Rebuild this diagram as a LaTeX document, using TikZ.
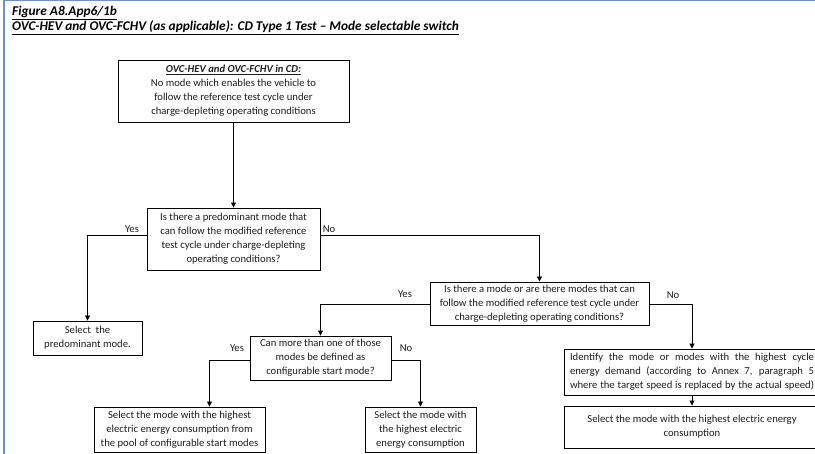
\documentclass[tikz,border=0pt]{standalone}
\usepackage{fontspec}
\setmainfont{Carlito}
\usetikzlibrary{arrows.meta}
\definecolor{frameblue}{RGB}{110,145,205}
\definecolor{txt}{RGB}{30,30,30}
\begin{document}
\begin{tikzpicture}[x=1bp,y=-1bp,
  box/.style={draw=black,line width=0.9bp,fill=white,align=center,inner sep=0pt,text=txt,
    font=\fontsize{10.7}{14}\selectfont},
  conn/.style={line width=0.8bp,-{Triangle[length=5bp,width=5bp]}},
  lab/.style={font=\fontsize{10.7}{12}\selectfont,text=txt,inner sep=0pt},
  ttl/.style={font=\fontsize{13.4}{15}\selectfont\bfseries\itshape,anchor=base west,inner sep=0pt}]
\useasboundingbox (0,0) rectangle (815,454);
\clip (0,0) rectangle (815,454);
\draw[frameblue,line width=2bp] (3.5,454) -- (3.5,0.5) -- (815,0.5);
\node[ttl] (t1) at (12,16) {\underline{Figure A8.App6/1b}};
\node[ttl] (t2) at (12,31) {\underline{OVC-HEV and OVC-FCHV (as applicable): CD Type 1 Test – Mode selectable switch}};

\node[box,minimum width=231bp,minimum height=62bp] (top) at (233.5,91)
  {{\bfseries\itshape\underline{OVC-HEV and OVC-FCHV in CD:}}\\No mode which enables the vehicle to\\follow the reference test cycle under\\charge-depleting operating conditions};
\node[box,minimum width=173bp,minimum height=62bp] (q1) at (233.5,239)
  {Is there a predominant mode that\\can follow the modified reference\\test cycle under charge-depleting\\operating conditions?};
\node[box,minimum width=109bp,minimum height=34bp] (pred) at (87.5,338)
  {Select\ \ the\\predominant mode.};
\node[box,minimum width=219bp,minimum height=43bp] (q2) at (539.5,303.5)
  {Is there a mode or are there modes that can\\follow the modified reference test cycle under\\charge-depleting operating conditions?};
\node[box,minimum width=141bp,minimum height=44bp] (q3) at (320.5,358)
  {Can more than one of those\\modes be defined as\\configurable start mode?};
\node[box,minimum width=171bp,minimum height=45bp] (selA) at (179.5,429.5)
  {Select the mode with the highest\\electric energy consumption from\\the pool of configurable start modes};
\node[box,minimum width=111bp,minimum height=45bp] (selB) at (420.5,429.5)
  {Select the mode with\\the highest electric\\energy consumption};
\node[box,minimum width=256bp,minimum height=46bp] (ident) at (692,372)
  {\makebox[244bp][s]{Identify the mode or modes with the highest cycle}\\
   \makebox[244bp][s]{energy demand (according to Annex 7, paragraph 5}\\
   \makebox[244bp][s]{where the target speed is replaced by the actual speed)}};
\node[box,minimum width=256bp,minimum height=42bp] (selC) at (692,427)
  {Select the mode with the highest electric energy\\consumption};

\draw[conn] (top.south) -- (q1.north);
\draw[conn] ([yshift=4bp]q1.west) -| (pred.north);
\draw[conn] ([yshift=4bp]q1.east) -| (q2.north);
\draw[conn] ([yshift=-1bp]q2.west) -| (q3.north);
\draw[conn] ([yshift=-1bp]q2.east) -| (ident.north);
\draw[conn] ([yshift=-2bp]q3.west) -| ([xshift=30bp]selA.north);
\draw[conn] ([yshift=-2bp]q3.east) -| (selB.north);
\draw[conn] (ident.south) -- (selC.north);

\node[lab] (y1) at (132,229) {Yes};
\node[lab] (n1) at (329,229) {No};
\node[lab] (y2) at (405,294) {Yes};
\node[lab] (n2) at (673,295) {No};
\node[lab] (y3) at (237,348) {Yes};
\node[lab] (n3) at (406,348) {No};
\end{tikzpicture}
\end{document}
